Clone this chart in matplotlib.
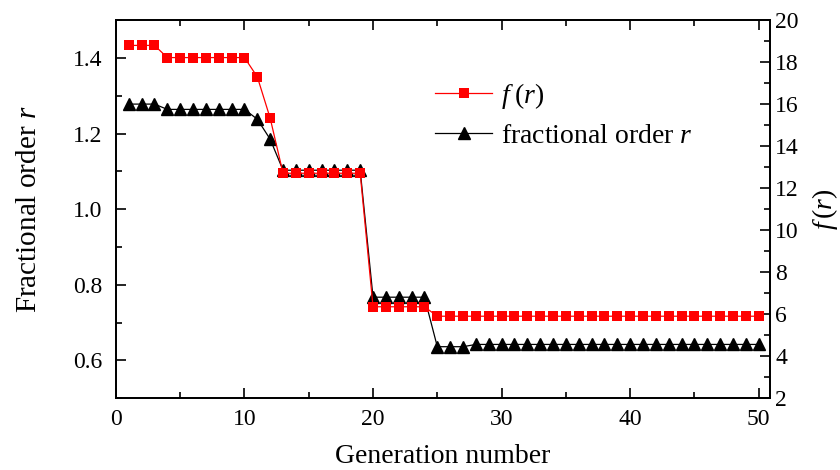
import numpy as np
import matplotlib
matplotlib.use('Agg')
import matplotlib.pyplot as plt
from matplotlib.ticker import MultipleLocator

plt.rcParams['font.family'] = 'Liberation Serif'
plt.rcParams['mathtext.fontset'] = 'custom'
plt.rcParams['mathtext.rm'] = 'Liberation Serif'
plt.rcParams['mathtext.it'] = 'Liberation Serif:italic'

# data
generation = list(range(1, 51))
order_r = ([1.278] * 3 + [1.264] * 7 + [1.238, 1.185] + [1.103] * 7
           + [0.767] * 5 + [0.636] * 3 + [0.642] * 23)
f_r = ([18.80] * 3 + [18.22] * 7 + [17.30, 15.33] + [12.71] * 7
       + [6.35] * 5 + [5.90] * 26)

fig = plt.figure(figsize=(8.4, 4.7), dpi=100)
ax = fig.add_axes([0.138, 0.153, 0.779, 0.804])
ax2 = ax.twinx()

l_r, = ax.plot(generation, order_r, color='black', lw=0.9, marker='^',
               markersize=8.5, label='fractional order $r$')
l_f, = ax2.plot(generation, f_r, color='#ff0000', lw=0.9, marker='s',
                markersize=7, markeredgewidth=0, label='$f\\;(r)$')

ax.set_xlim(0, 50.9)
ax.set_ylim(0.5, 1.5)
ax2.set_ylim(2, 20)

ax.xaxis.set_major_locator(MultipleLocator(10))
ax.xaxis.set_minor_locator(MultipleLocator(5))
ax.yaxis.set_major_locator(MultipleLocator(0.2))
ax.yaxis.set_minor_locator(MultipleLocator(0.1))
ax2.yaxis.set_major_locator(MultipleLocator(2))
ax2.yaxis.set_minor_locator(MultipleLocator(1))

ax.tick_params(axis='both', which='both', direction='in', top=True, labelsize=17)
ax.tick_params(which='major', length=7, width=1.2)
ax.tick_params(which='minor', length=4, width=1.2)
ax2.tick_params(axis='y', which='both', direction='in', labelsize=17)
ax2.tick_params(which='major', length=7, width=1.2)
ax2.tick_params(which='minor', length=4, width=1.2)
ax.tick_params(axis='x', pad=8)
ax.tick_params(axis='y', pad=10)

for a in (ax, ax2):
    for s in a.spines.values():
        s.set_linewidth(1.3)

ax.set_xlabel('Generation number', fontsize=20, labelpad=10)
ax.set_ylabel('Fractional order $r$', fontsize=21, labelpad=22)
ax2.set_ylabel('$f\\,(r)$', fontsize=20, labelpad=8)

ax2.legend(handles=[l_f, l_r], loc='upper left', bbox_to_anchor=(0.488, 0.84),
           frameon=False, fontsize=20, numpoints=1, handlelength=2.05,
           borderpad=0, borderaxespad=0, labelspacing=0.45, handletextpad=0.3)

fig.savefig('out.png', dpi=100)
